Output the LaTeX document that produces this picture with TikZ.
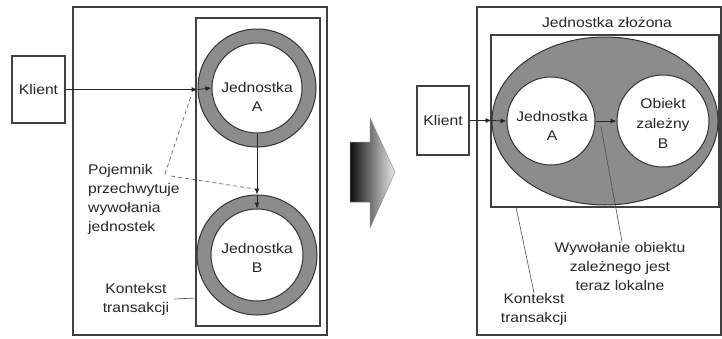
\documentclass[tikz,border=0pt]{standalone}
\usepackage{fontspec}
\setmainfont{Liberation Sans}[FakeStretch=1.12]
\usetikzlibrary{arrows.meta,shapes.geometric}
\begin{document}
\begin{tikzpicture}[x=1pt,y=-1pt,
  every node/.style={font=\fontsize{14}{19}\selectfont, text=black!85, inner sep=0pt},
  frame/.style={draw=black!75, line width=1.4pt},
  box/.style={draw=black!75, line width=1.2pt},
  ring/.style={circle, draw=black!80, line width=1pt, fill=black!45, inner sep=0pt},
  core/.style={circle, draw=black!80, line width=1pt, fill=white, inner sep=0pt},
  label/.style={align=center},
  arr/.style={draw=black!85, line width=0.8pt, -{Latex[length=6pt,width=5pt]}},
  lead/.style={draw=black!70, line width=0.6pt},
  dashlead/.style={draw=black!60, line width=0.7pt, dash pattern=on 4pt off 3pt}
]
\useasboundingbox (0,0) rectangle (722,338);

% ---------- before: separate components in a container ----------
\draw[frame] (73,7) rectangle (327,335);
\draw[box] (196,18) rectangle (320,326);

\node[box, minimum width=53pt, minimum height=67pt] (klientL) at (38.5,89.5) {Klient};

\node[ring, minimum size=118pt] (ringA) at (257,88) {};
\node[core, minimum size=90pt] (A) at (257,88) {};
\node[label] (labA) at (257,97) {Jednostka\\A};

\node[ring, minimum size=120pt] (ringB) at (257,255) {};
\node[core, minimum size=92pt] (B) at (257,255) {};
\node[label] (labB) at (257,258) {Jednostka\\B};

% client call, intercepted at the component boundary
\coordinate (inA) at (klientL.east -| ringA.west);
\draw[arr] (klientL.east) -- (inA);
\draw[arr] (inA) -- (A.west);
% component A calls component B through the container
\draw[arr] (A.south) -- (ringB.north);
\draw[arr] (ringB.north) -- (B.north);

\node[align=left, anchor=west] (poj) at (88,199) {Pojemnik\\przechwytuje\\wywołania\\jednostek};
\coordinate (pjA) at (165,174);
\coordinate (pjB) at (171,176);
\coordinate (tipA) at (191,96);
\coordinate (tipB) at (255,189);
\draw[dashlead] (pjA) -- (tipA);
\draw[dashlead] (pjB) -- (tipB);

\node[label] (ktL) at (136,299) {Kontekst\\transakcji};
\coordinate (ktLend) at (196,298);
\draw[lead] ([xshift=5pt]ktL.east) -- (ktLend);

% ---------- transition arrow ----------
\shadedraw[left color=black!95, right color=black!8, draw=black!45, line width=0.5pt]
  (350,142) -- (370,142) -- (370,118) -- (395,172) -- (370,228) -- (370,202) -- (350,202) -- cycle;

% ---------- after: composite component ----------
\draw[frame] (477,7) rectangle (721,335);
\node (title) at (607,22) {Jednostka złożona};
\draw[box] (491,35) rectangle (719,207);

\node[ellipse, draw=black!80, line width=1pt, fill=black!45, minimum width=226pt, minimum height=168pt] (ell) at (605,121) {};
\node[core, minimum size=88pt] (A2) at (551,121) {};
\node[label] (labA2) at (552,126) {Jednostka\\A};
\node[core, minimum size=92pt] (B2) at (663,121) {};
\node[label, font=\fontsize{14}{20}\selectfont] (labB2) at (663,123) {Obiekt\\zależny\\B};

\node[box, minimum width=52pt, minimum height=69pt] (klientR) at (443,120.5) {Klient};

\coordinate (inA2) at (klientR.east -| ell.west);
\draw[arr] (klientR.east) -- (inA2);
\draw[arr] (inA2) -- (A2.west);
\draw[arr] (A2.east) -- (B2.west);

\node[label] (wy) at (620,266) {Wywołanie obiektu\\zależnego jest\\teraz lokalne};
\coordinate (wyTop) at (601,127);
\draw[lead] (wyTop) -- ([xshift=2pt]wy.north);

\node[label] (ktR) at (534,309) {Kontekst\\transakcji};
\coordinate (ktRstart) at (516,207);
\draw[lead] (ktRstart) -- (ktR.north);
\end{tikzpicture}
\end{document}
